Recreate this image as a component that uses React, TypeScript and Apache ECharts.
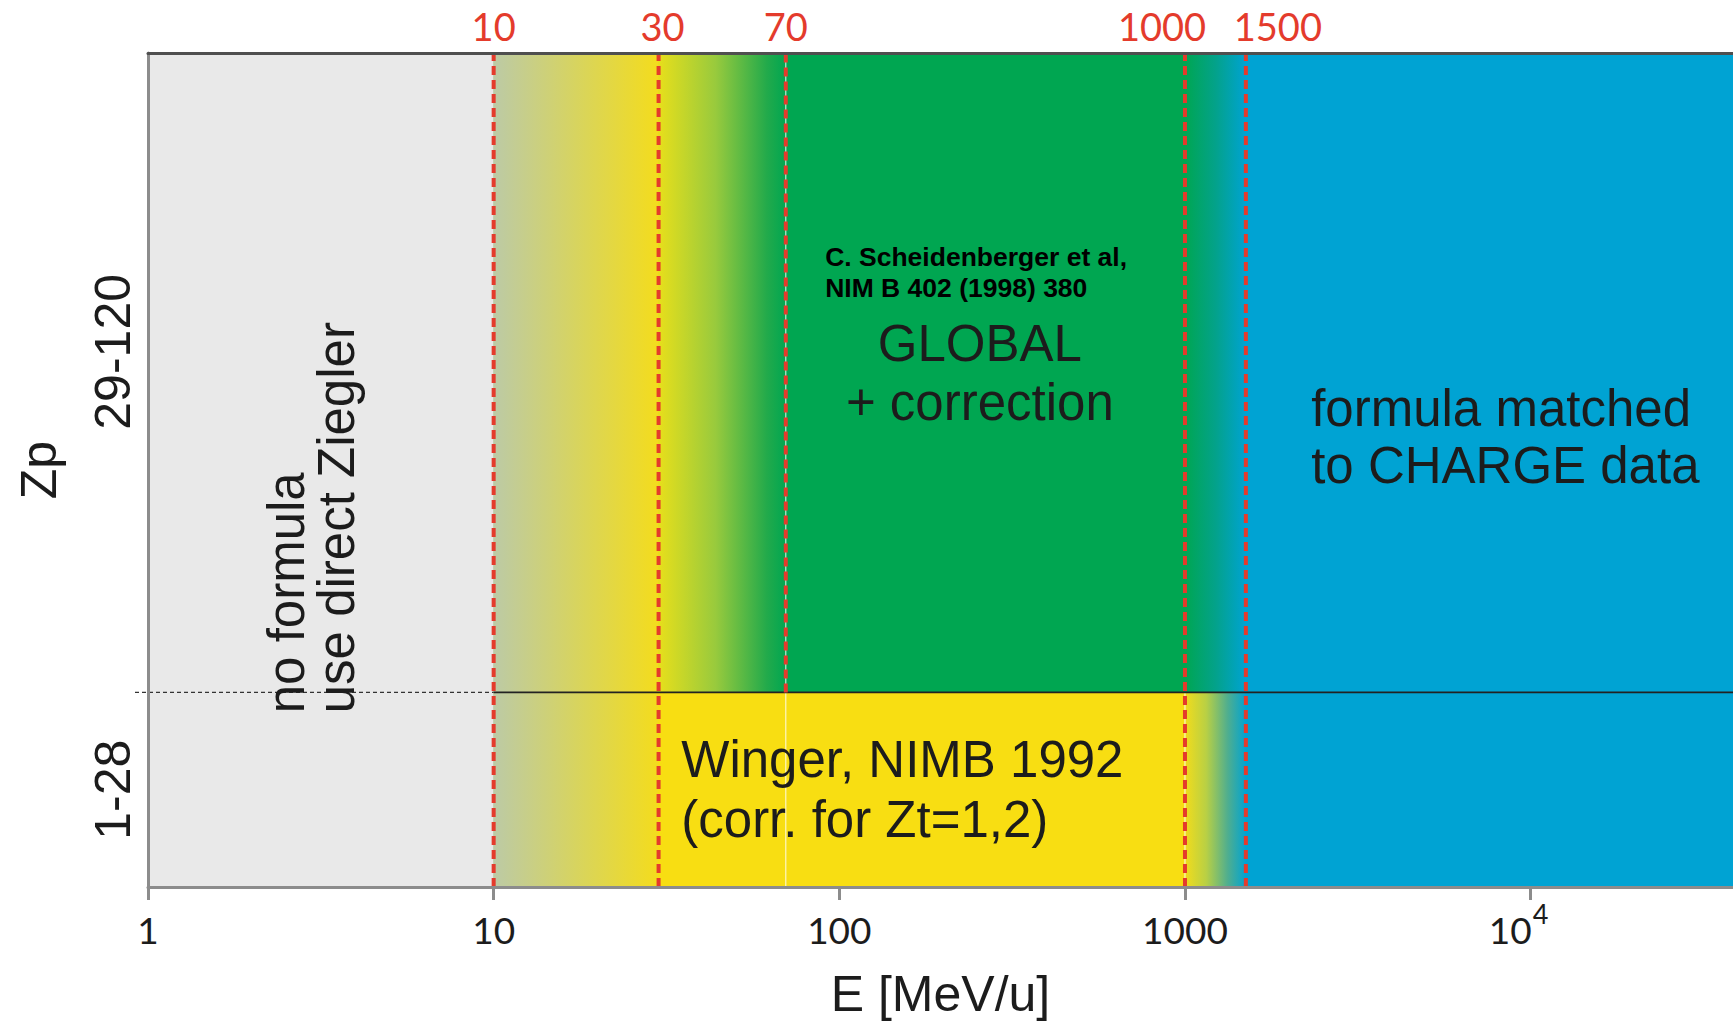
import React, { useEffect, useRef } from 'react';
import * as echarts from 'echarts';

// Energy axis (MeV/u, log) and projectile charge axis (Zp)
const E_MIN = 1;
const E_MAX = 38500;
const Z_MIN = 0;
const Z_MAX = 120;
const Z_SPLIT = 28;

const xTickValues = [1, 10, 100, 1000, 10000];
const xTickLabels = ['{b|1}', '{b|10}', '{b|100}', '{b|1000}', '{b|10}{sup|4}'];
const yTickValues = [14, 77];
const yTickLabels = ['1-28', '29-120'];

// Energies where the parametrisation changes
const boundaryEnergies = [10, 30, 70, 1000, 1500];
const boundaryLabels = ['10', '30', '70', '1000', '1500'];
const boundaryZFrom = [Z_MIN, Z_MIN, Z_SPLIT, Z_MIN, Z_MIN];

// Faint white guide lines
const guideEnergies = [70, 1000];
const guideZFrom = [Z_MIN, Z_MIN];
const guideZTo = [Z_MAX, Z_SPLIT];

// Validity regions of each method
const regionEStart = [1, 10, 30, 70, 1000, 30, 1000, 1500];
const regionEEnd = [10, 30, 70, 1000, 1500, 1000, 1500, E_MAX];
const regionZStart = [Z_MIN, Z_MIN, Z_SPLIT, Z_SPLIT, Z_SPLIT, Z_MIN, Z_MIN, Z_MIN];
const regionZEnd = [Z_MAX, Z_MAX, Z_MAX, Z_MAX, Z_MAX, Z_SPLIT, Z_SPLIT, Z_MAX];

// Divider between low-Z and high-Z projectiles
const dividerEStart = [E_MIN, 10];
const dividerEEnd = [10, E_MAX];

// Annotations
const noteText = [
  'no formula\nuse direct Ziegler',
  'C. Scheidenberger et al,\nNIM B 402 (1998) 380',
  'GLOBAL\n+ correction',
  'formula matched\nto CHARGE data',
  'Winger, NIMB 1992\n(corr. for Zt=1,2)',
];
const noteE = [2.98, 91, 255, 2318, 34.9];
const noteZ = [25, 88.4, 73.9, 64.7, 14.0];

const GRAY = '#e9e9e9';
const GREEN = '#00a651';
const BLUE = '#00a3d3';
const YELLOW = '#f8de12';

const regionStops: [number, string][][] = [
  [[0, GRAY], [1, GRAY]],
  [[0, '#bccaa6'], [0.5, '#d7d45f'], [1, '#f4dc1c']],
  [[0, '#e8df1b'], [0.45, '#98ca3d'], [0.85, '#22aa4b'], [1, GREEN]],
  [[0, GREEN], [1, GREEN]],
  [[0, GREEN], [0.5, '#03a28a'], [1, BLUE]],
  [[0, YELLOW], [1, YELLOW]],
  [[0, '#f3dc1a'], [0.35, '#b9d044'], [0.7, '#4fae8f'], [1, BLUE]],
  [[0, BLUE], [1, BLUE]],
];

const TEXT = '#1c1c1c';
const FONT = "'Liberation Sans', Arial, sans-serif";
const TICK_FONT = "Lato, 'Liberation Sans', sans-serif";
const RED = '#e43b2c';
const AXIS_GRAY = '#8c8c8c';

// Horizontal nudges (px) so the close-together boundary labels do not collide
const boundaryLabelShift = [0, 4, 0, -23, 32];

const noteStyles = [
  { fontSize: 51, fontWeight: 'normal', align: 'left', lineHeight: 50, rotation: Math.PI / 2, fill: TEXT },
  { fontSize: 26.5, fontWeight: 'bold', align: 'left', lineHeight: 31, rotation: 0, fill: '#000' },
  { fontSize: 51, fontWeight: 'normal', align: 'center', lineHeight: 59, rotation: 0, fill: TEXT },
  { fontSize: 51, fontWeight: 'normal', align: 'left', lineHeight: 57, rotation: 0, fill: TEXT },
  { fontSize: 51, fontWeight: 'normal', align: 'left', lineHeight: 60, rotation: 0, fill: TEXT },
];

const nearestIndex = (list: number[], v: number) => {
  let best = 0;
  list.forEach((t, i) => {
    if (Math.abs(Math.log10(t) - Math.log10(v)) < Math.abs(Math.log10(list[best]) - Math.log10(v))) best = i;
  });
  return best;
};

export default function App() {
  const ref = useRef<HTMLDivElement>(null);

  useEffect(() => {
    if (!ref.current) return;
    const chart = echarts.init(ref.current, null, { renderer: 'svg' });

    const regionData = regionEStart.map((e0, i) => [e0, regionEEnd[i], regionZStart[i], regionZEnd[i]]);
    const boundaryData = boundaryEnergies.map((e, i) => [e, boundaryZFrom[i], Z_MAX]);
    const guideData = guideEnergies.map((e, i) => [e, guideZFrom[i], guideZTo[i]]);
    const dividerData = dividerEStart.map((e0, i) => [e0, dividerEEnd[i], Z_SPLIT]);
    const noteData = noteE.map((e, i) => [e, noteZ[i]]);

    const option: any = {
      animation: false,
      backgroundColor: '#ffffff',
      grid: { left: 148, top: 53, right: 0, bottom: 139, containLabel: false },
      xAxis: [
        {
          type: 'log',
          logBase: 10,
          min: E_MIN,
          max: E_MAX,
          position: 'bottom',
          z: 10,
          axisLine: { show: true, lineStyle: { color: AXIS_GRAY, width: 3 } },
          axisTick: { show: true, inside: false, length: 13, customValues: xTickValues, lineStyle: { color: AXIS_GRAY, width: 3 } },
          splitLine: { show: false },
          minorTick: { show: false },
          axisLabel: {
            customValues: xTickValues,
            margin: 13,
            color: TEXT,
            fontSize: 37,
            fontFamily: TICK_FONT,
            formatter: (v: number) => xTickLabels[nearestIndex(xTickValues, v)],
            rich: {
              b: { fontSize: 37, fontFamily: TICK_FONT, color: TEXT, verticalAlign: 'bottom', padding: [11, 0, 0, 0] },
              sup: { fontSize: 27, fontFamily: TICK_FONT, color: TEXT, verticalAlign: 'top', padding: [0, 24, 0, 1] },
            },
          },
          name: 'E [MeV/u]',
          nameLocation: 'middle',
          nameGap: 82,
          nameTextStyle: { fontSize: 50, fontFamily: FONT, color: TEXT },
        },
        {
          type: 'log',
          logBase: 10,
          min: E_MIN,
          max: E_MAX,
          position: 'top',
          z: 10,
          axisLine: { show: true, lineStyle: { color: '#4f4f4f', width: 3 } },
          axisTick: { show: false },
          splitLine: { show: false },
          axisLabel: { show: false },
        },
      ],
      yAxis: {
        type: 'value',
        min: Z_MIN,
        max: Z_MAX,
        z: 10,
        axisLine: { show: true, lineStyle: { color: AXIS_GRAY, width: 3 } },
        axisTick: { show: false },
        splitLine: { show: false },
        axisLabel: {
          customValues: yTickValues,
          rotate: 90,
          margin: 10,
          color: TEXT,
          fontSize: 50,
          fontFamily: FONT,
          formatter: (v: number) => {
            const i = yTickValues.findIndex((t) => Math.abs(t - v) < 1e-6);
            return i >= 0 ? yTickLabels[i] : '';
          },
        },
        name: 'Zp',
        nameLocation: 'middle',
        nameRotate: 90,
        nameGap: 84,
        nameTextStyle: { fontSize: 50, fontFamily: FONT, color: TEXT },
      },
      series: [
        {
          type: 'custom',
          name: 'regions',
          xAxisIndex: 0,
          z: 1,
          encode: { x: [0, 1], y: [2, 3] },
          data: regionData,
          renderItem: (params: any, api: any) => {
            const i = params.dataIndex;
            const p0 = api.coord([api.value(0), api.value(2)]);
            const p1 = api.coord([api.value(1), api.value(3)]);
            return {
              type: 'rect',
              shape: { x: p0[0] - 0.5, y: p1[1], width: p1[0] - p0[0] + 1, height: p0[1] - p1[1] },
              style: {
                fill: new echarts.graphic.LinearGradient(0, 0, 1, 0, regionStops[i].map(([offset, color]) => ({ offset, color }))),
              },
            };
          },
        },
        {
          type: 'custom',
          name: 'guides',
          xAxisIndex: 0,
          z: 2,
          encode: { x: 0, y: [1, 2] },
          data: guideData,
          renderItem: (params: any, api: any) => {
            const a = api.coord([api.value(0), api.value(1)]);
            const b = api.coord([api.value(0), api.value(2)]);
            return {
              type: 'line',
              shape: { x1: a[0], y1: a[1], x2: b[0], y2: b[1] },
              style: { stroke: 'rgba(255,255,255,0.75)', lineWidth: 1.2 },
            };
          },
        },
        {
          type: 'custom',
          name: 'divider',
          xAxisIndex: 0,
          z: 3,
          clip: false,
          encode: { x: [0, 1], y: 2 },
          data: dividerData,
          renderItem: (params: any, api: any) => {
            const a = api.coord([api.value(0), api.value(2)]);
            const b = api.coord([api.value(1), api.value(2)]);
            const first = params.dataIndex === 0;
            return {
              type: 'line',
              shape: { x1: first ? a[0] - 13 : a[0], y1: a[1], x2: b[0], y2: b[1] },
              style: first
                ? { stroke: '#333', lineWidth: 1.4, lineDash: [4, 3] }
                : { stroke: '#222', lineWidth: 1.8 },
            };
          },
        },
        {
          type: 'custom',
          name: 'boundaries',
          xAxisIndex: 0,
          z: 4,
          clip: false,
          encode: { x: 0, y: [1, 2] },
          data: boundaryData,
          renderItem: (params: any, api: any) => {
            const i = params.dataIndex;
            const a = api.coord([api.value(0), api.value(1)]);
            const b = api.coord([api.value(0), api.value(2)]);
            return {
              type: 'group',
              children: [
                {
                  type: 'line',
                  shape: { x1: a[0], y1: a[1], x2: b[0], y2: b[1] },
                  style: { stroke: RED, lineWidth: 4, lineDash: [9, 5] },
                },
                {
                  type: 'text',
                  x: b[0] + boundaryLabelShift[i],
                  y: b[1] - 27,
                  style: {
                    text: boundaryLabels[i],
                    fontSize: 38,
                    fontFamily: TICK_FONT,
                    fill: RED,
                    align: 'center',
                    verticalAlign: 'middle',
                  },
                },
              ],
            };
          },
        },
        {
          type: 'custom',
          name: 'notes',
          xAxisIndex: 0,
          z: 6,
          clip: false,
          encode: { x: 0, y: 1 },
          data: noteData,
          renderItem: (params: any, api: any) => {
            const i = params.dataIndex;
            const p = api.coord([api.value(0), api.value(1)]);
            const s = noteStyles[i];
            return {
              type: 'text',
              x: p[0],
              y: p[1],
              rotation: s.rotation,
              style: {
                text: noteText[i],
                fontSize: s.fontSize,
                fontWeight: s.fontWeight,
                fontFamily: FONT,
                fill: s.fill,
                align: s.align,
                verticalAlign: 'middle',
                lineHeight: s.lineHeight,
              },
            };
          },
        },
      ],
    };

    chart.setOption(option);
    return () => chart.dispose();
  }, []);

  return (
    <div
      ref={ref}
      style={{ position: 'absolute', left: 0, top: 0, width: 1733, height: 1026, background: '#fff' }}
    />
  );
}
